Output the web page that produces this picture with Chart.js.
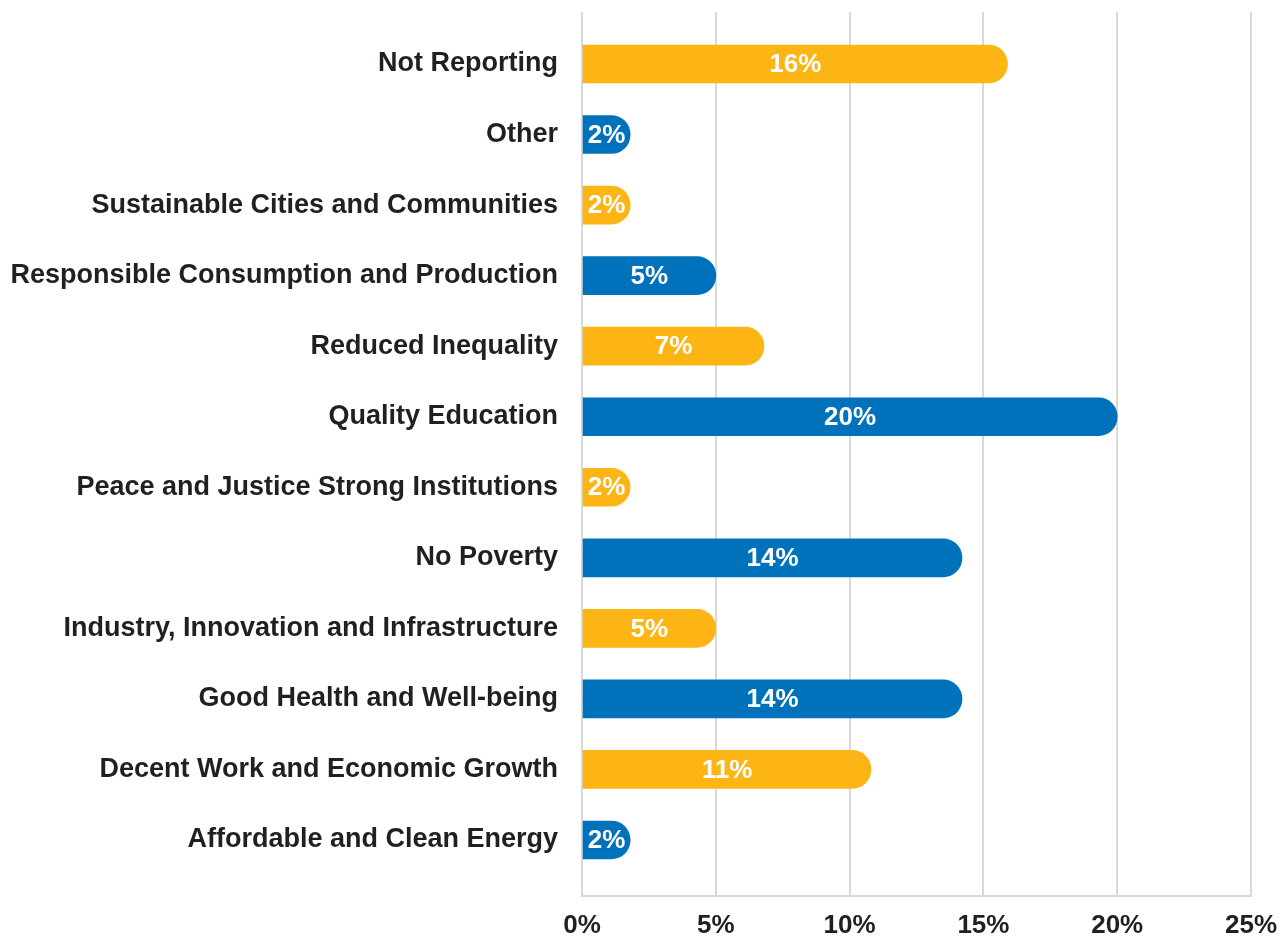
<!DOCTYPE html>
<html>
<head>
<meta charset="utf-8">
<script src="https://cdn.jsdelivr.net/npm/chart.js@4/dist/chart.umd.min.js"></script>
<style>
  html, body { margin: 0; padding: 0; background: #fff; }
  #wrap { width: 1286px; height: 938px; }
</style>
</head>
<body>
<div id="wrap"><canvas id="goals"></canvas></div>
<script>
var categories = [
    'Not Reporting',
    'Other',
    'Sustainable Cities and Communities',
    'Responsible Consumption and Production',
    'Reduced Inequality',
    'Quality Education',
    'Peace and Justice Strong Institutions',
    'No Poverty',
    'Industry, Innovation and Infrastructure',
    'Good Health and Well-being',
    'Decent Work and Economic Growth',
    'Affordable and Clean Energy'
];
var shares = [15.9, 1.8, 1.8, 5.0, 6.8, 20.0, 1.8, 14.2, 5.0, 14.2, 10.8, 1.8];
var shareLabels = ['16%', '2%', '2%', '5%', '7%', '20%', '2%', '14%', '5%', '14%', '11%', '2%'];
var xTicks = [0, 5, 10, 15, 20, 25];

var ORANGE = '#FDB515';
var BLUE = '#0072BC';
var barColors = categories.map(function (c, i) { return i % 2 === 0 ? ORANGE : BLUE; });

var FONT = '"Liberation Sans", Arial, Helvetica, sans-serif';

// white percentage text in the middle of each bar
var barText = {
    id: 'barText',
    afterDatasetsDraw: function (chart) {
        var ctx = chart.ctx;
        var meta = chart.getDatasetMeta(0);
        ctx.save();
        ctx.font = 'bold 26px ' + FONT;
        ctx.fillStyle = '#ffffff';
        ctx.textAlign = 'center';
        ctx.textBaseline = 'middle';
        meta.data.forEach(function (bar, i) {
            ctx.fillText(shareLabels[i], (bar.base + bar.x) / 2, bar.y + 1);
        });
        ctx.restore();
    }
};

var ctx = document.getElementById('goals').getContext('2d');
new Chart(ctx, {
    type: 'bar',
    data: {
        datasets: [{
            data: shares.map(function (v, i) { return { x: v, y: i }; }),
            backgroundColor: barColors,
            borderRadius: 19,
            borderSkipped: 'start',
            barThickness: 38
        }]
    },
    options: {
        indexAxis: 'y',
        responsive: true,
        maintainAspectRatio: false,
        animation: false,
        layout: { padding: { top: 12, right: 35, left: 0, bottom: 0 } },
        plugins: {
            legend: { display: false },
            tooltip: { enabled: false }
        },
        scales: {
            x: {
                type: 'linear',
                min: 0,
                max: 25,
                afterBuildTicks: function (scale) {
                    scale.ticks = xTicks.map(function (v) { return { value: v }; });
                },
                afterFit: function (scale) {
                    scale.height = 42;
                    scale.paddingLeft = 0;
                    scale.paddingRight = 0;
                },
                grid: { color: '#d9d9d9', lineWidth: 2, drawTicks: false },
                border: { display: true, color: '#d9d9d9', width: 2 },
                ticks: {
                    padding: 14,
                    color: '#231F20',
                    font: { family: FONT, size: 26, weight: 'bold' },
                    callback: function (v) { return v + '%'; }
                }
            },
            y: {
                type: 'linear',
                offset: false,
                reverse: true,
                min: -0.737,
                max: 11.794,
                afterBuildTicks: function (scale) {
                    scale.ticks = categories.map(function (c, i) { return { value: i }; });
                },
                afterFit: function (scale) {
                    scale.width = 582;
                    scale.paddingTop = 0;
                    scale.paddingBottom = 0;
                },
                grid: { display: false },
                border: { display: false },
                ticks: {
                    autoSkip: false,
                    padding: 16,
                    color: '#231F20',
                    font: { family: FONT, size: 27, weight: 'bold' },
                    callback: function (v) { return categories[v]; }
                }
            }
        }
    },
    plugins: [barText]
});
</script>
</body>
</html>
